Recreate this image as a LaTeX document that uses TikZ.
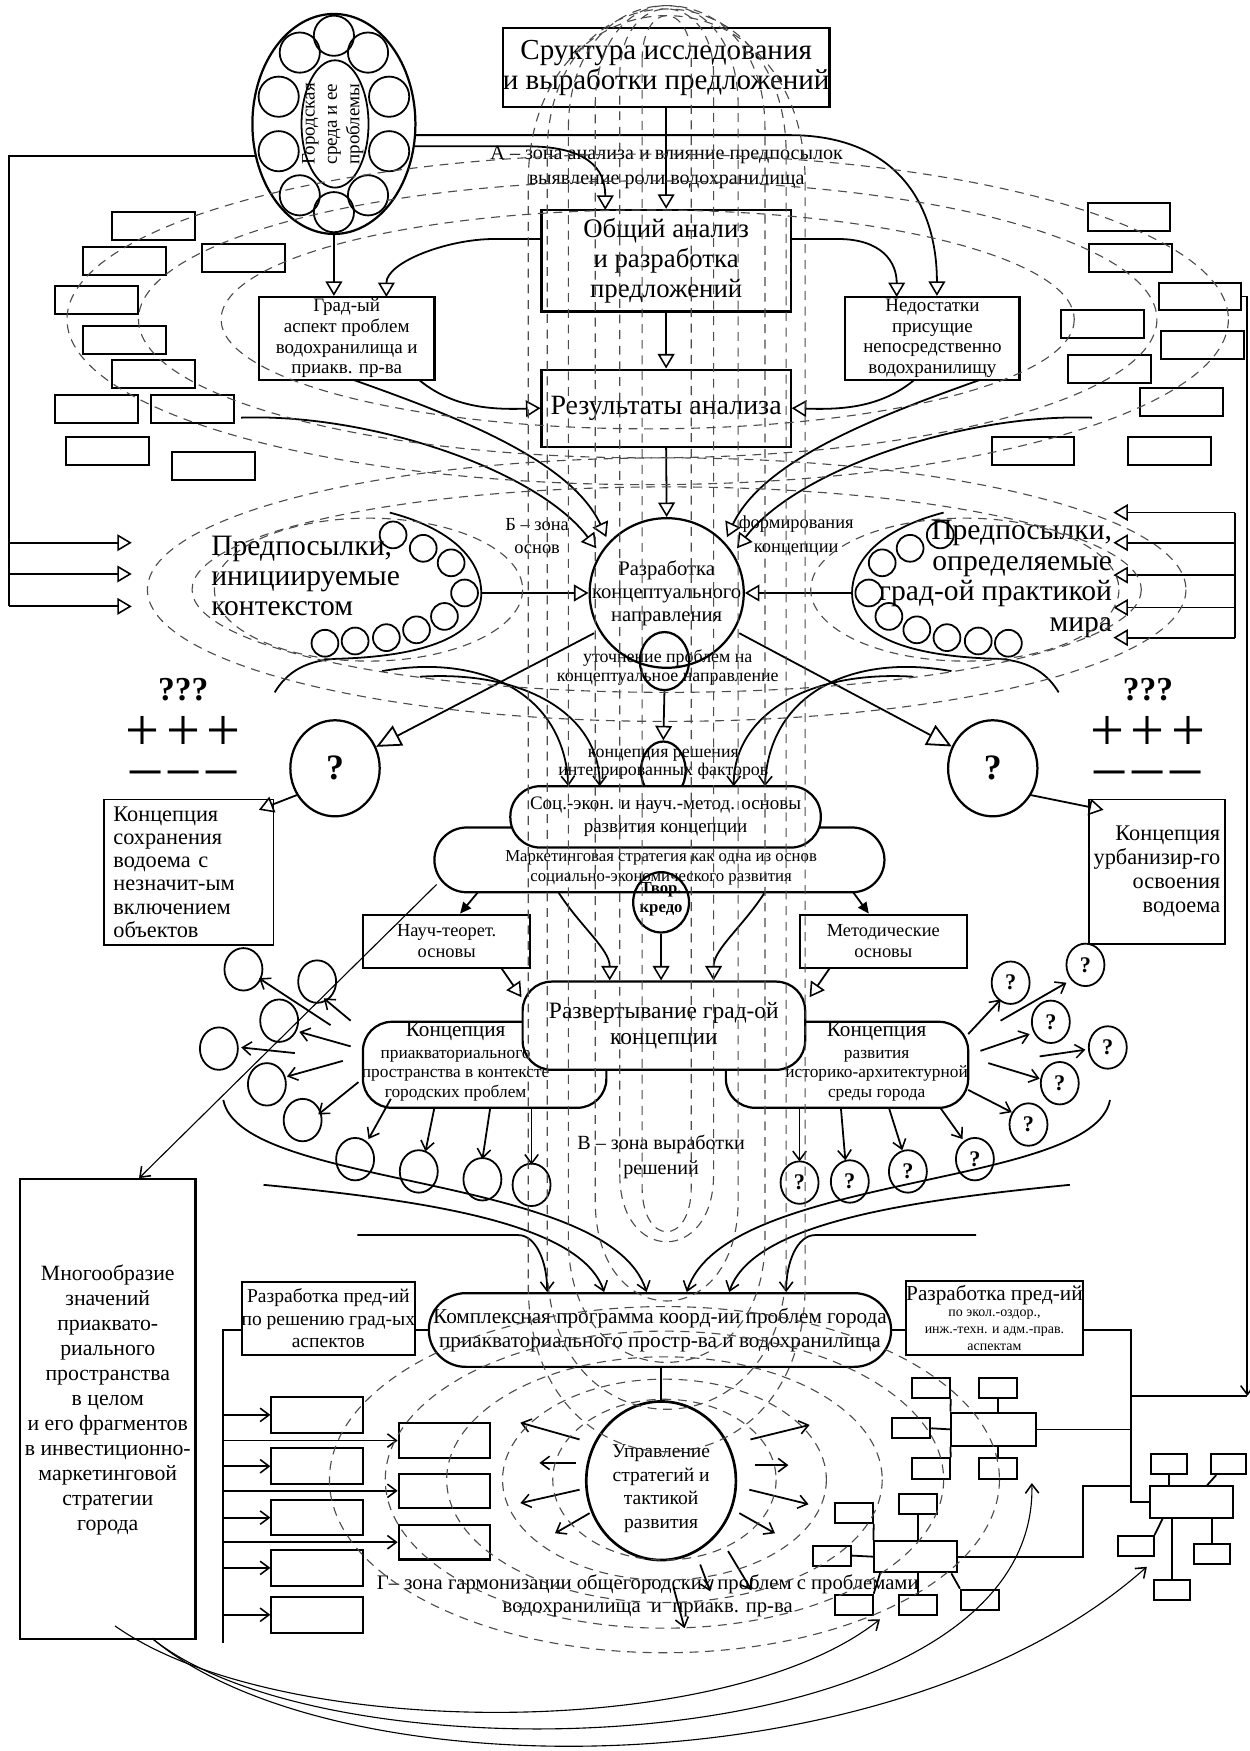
\documentclass[tikz,border=0pt]{standalone}
\usepackage{fontspec}
\setmainfont{Liberation Serif}
\usetikzlibrary{shapes.geometric, arrows.meta, calc}

\newcommand{\fsz}[2]{\fontsize{#1}{#2}\selectfont}

\begin{document}
\begin{tikzpicture}[x=1pt, y=-1pt,
  box/.style={draw, line width=2pt, fill=white, align=center, inner sep=0pt},
  oval/.style={draw, ellipse, line width=2pt, fill=white, inner sep=0pt, align=center},
  ring/.style={draw, ellipse, line width=1.6pt, inner sep=0pt, minimum width=#1, minimum height=#1},
  sbox/.style={draw, line width=1.8pt, fill=white, inner sep=0pt},
  lbl/.style={inner sep=0pt, align=center},
  conn/.style={line width=1.6pt},
  fine/.style={line width=1pt},
  zone/.style={dash pattern=on 8pt off 6pt, line width=1pt, black!70},
  hol/.style={-{Triangle[open, length=13pt, width=15pt, line width=1.4pt]}},
  bighol/.style={-{Triangle[open, length=22pt, width=20pt, line width=1.6pt]}},
  barb/.style={-{Straight Barb[length=8pt, width=12pt, line width=1.4pt]}},
  filltip/.style={-{Triangle[length=10pt, width=9pt]}}
]
\fill[white] (0,0) rectangle (1119,1568);
\useasboundingbox (0,0) rectangle (1119,1568);

% Zone A: structure, analysis
\node[box, minimum width=283pt, minimum height=71pt, font=\fsz{26}{27}] (struct) at (596.5,60.5) {Сруктура исследования\\и выработки предложений};
\node[oval, minimum width=146pt, minimum height=197pt] (gorod) at (299,111) {};
\foreach \a in {90,54,18,-18,-54,-90,126,162,198,234}
  \node[ring=36pt] (gc\a) at ({299+52*cos(\a)},{111-79*sin(\a)}) {};
\node[draw, ellipse, line width=1.6pt, inner sep=0pt, minimum width=60pt, minimum height=114pt] (gin) at (300,111) {};
\node[lbl, rotate=90, font=\fsz{17}{20}] (gorodlbl) at (298,111) {Городская\\среда и ее\\проблемы};

\node[lbl, font=\fsz{18}{22}] (zoneA) at (597,150) {А – зона анализа и влияние предпосылок\\выявление роли водохранилища};
\node[box, minimum width=223pt, minimum height=91pt, font=\fsz{24}{27}] (obsh) at (596.5,233.5) {Общий анализ\\и разработка\\предложений};
\node[box, minimum width=157pt, minimum height=74pt, font=\fsz{17}{18.5}] (grad) at (310.5,303) {Град-ый\\аспект проблем\\водохранилища и\\приакв. пр-ва};
\node[box, minimum width=156pt, minimum height=74pt, font=\fsz{17}{18.5}] (ned) at (835,303) {Недостатки\\присущие\\непосредственно\\водохранилищу};
\node[box, minimum width=223pt, minimum height=69pt, font=\fsz{25}{27}] (res) at (596.5,365.5) {Результаты анализа};

% empty boxes of zone A
\foreach \x/\y [count=\i] in {137.5/202.5, 111.5/233.5, 218/231, 86.5/268.5, 111.5/304.5, 137.5/335, 86.5/366.5, 172.5/366.5, 96/403.5, 191/417.5}
  \node[sbox, minimum width=74pt, minimum height=25pt] (lb\i) at (\x,\y) {};
\foreach \x/\y [count=\i] in {1011/194.5, 1012.5/231, 1074.5/265.5, 987.5/290.5, 1077/309, 993.5/330.5, 1058/360, 925/403.5, 1047.5/403.5}
  \node[sbox, minimum width=74pt, minimum height=25pt] (rb\i) at (\x,\y) {};

\draw[conn, hol] (struct.south) -- (obsh.north);
\draw[conn, hol] (obsh.south) -- (res.north);
\draw[conn, hol] (gorod.south) -- (gorod.south |- grad.north);
\draw[conn, hol] (372,121) -- (707,121) .. controls (800,121) and (839,180) .. ([xshift=4pt]ned.north);
\draw[conn, hol] (371,131) -- (471,131) .. controls (525,131) and (542,150) .. (542,188);
\draw[conn] (230,140) -- (8,140) -- (8,543);
\foreach \y in {486,514,543}
  \draw[conn, hol] (8,\y) -- (118,\y);
\draw[conn, hol] (485,214) -- (443,214) .. controls (400,214) and (346,235) .. (346,266);
\draw[conn, hol] (708,214) -- (750,214) .. controls (790,214) and (803,235) .. (803,266);
\draw[conn, hol] (375,340) .. controls (405,365) and (440,367) .. (res.west);
\draw[conn, hol] (819,340) .. controls (789,365) and (754,367) .. (res.east);
\draw[conn, barb] (rb3.east) -- (1117,265.5) -- (1117,1250);

% Zone B: concept
\node[oval, minimum width=138pt, minimum height=134pt] (razr) at (597,531) {};
\node[lbl, font=\fsz{18.5}{20.5}] (razrlbl) at (597,531) {Разработка\\концептуального\\направления};
\node[draw, ellipse, line width=2pt, inner sep=0pt, minimum width=44pt, minimum height=52pt] (utoch) at (595,592) {};
\node[lbl, font=\fsz{16}{17}] (utochlbl) at (598,598) {уточнение проблем на\\концептуальное направление};
\node[lbl, font=\fsz{16.5}{21}] (zoneB1) at (481,480) {Б – зона\\основ};
\node[lbl, font=\fsz{16.5}{21}] (zoneB2) at (713,480) {формирования\\концепции};
\draw[conn, hol] (res.south) -- (razr.north);
\draw[conn, hol] (316,340) .. controls (400,370) and (510,410) .. (543,481);
\draw[conn, hol] (216,374) .. controls (330,370) and (480,420) .. (534,491);
\draw[conn, hol] (878,340) .. controls (794,370) and (684,410) .. (651,481);
\draw[conn, hol] (978,374) .. controls (864,370) and (714,420) .. (660,491);

% prerequisites
\draw[conn] (349,459) .. controls (410,475) and (431,505) .. (431,531) .. controls (431,570) and (380,588) .. (300,590) .. controls (270,592) and (255,605) .. (246,620);
\draw[conn] (845,459) .. controls (784,475) and (763,505) .. (763,531) .. controls (763,570) and (814,588) .. (894,590) .. controls (924,592) and (939,605) .. (948,620);
\foreach \x/\y [count=\i] in {352/479, 379/491, 404/504, 416/531, 398/552, 373/564, 346/571, 318/574, 291/576} {
  \node[ring=24pt] (pl\i) at (\x,\y) {};
  \node[ring=24pt] (pr\i) at ({1194-\x},\y) {};
}
\node[lbl, align=left, anchor=west, font=\fsz{26.5}{27}] (predL) at (189,516) {Предпосылки,\\инициируемые\\контекстом};
\node[lbl, align=right, anchor=east, font=\fsz{26.5}{27.5}] (predR) at (996,518.5) {Предпосылки,\\определяемые\\град-ой практикой\\мира};
\draw[conn, hol] (431,531) -- (razr.west);
\draw[conn, hol] (763,531) -- (razr.east);
\draw[conn] (1106,459) -- (1106,571);
\foreach \y in {459,486,515,544,571}
  \draw[conn, hol] (1106,\y) -- (997,\y);

% two alternatives
\node[oval, minimum width=80pt, minimum height=86pt, font=\bfseries\fsz{32}{32}] (qL) at (300,688) {?};
\node[oval, minimum width=80pt, minimum height=86pt, font=\bfseries\fsz{32}{32}] (qR) at (889,688) {?};
\draw[conn, bighol] (532,567) -- (qL);
\draw[conn, bighol] (662,567) -- (qR);
\node[lbl, font=\bfseries\fsz{30}{30}] (qqqL) at (164,618) {???};
\node[lbl, font=\fsz{54}{54}] (plusL) at (164,657) {+\kern6pt+\kern6pt+};
\node[lbl, font=\fsz{54}{54}] (minusL) at (164,697) {–\kern7pt–\kern7pt–};
\node[lbl, font=\bfseries\fsz{30}{30}] (qqqR) at (1028,618) {???};
\node[lbl, font=\fsz{54}{54}] (plusR) at (1028,657) {+\kern6pt+\kern6pt+};
\node[lbl, font=\fsz{54}{54}] (minusR) at (1028,697) {–\kern7pt–\kern7pt–};
\node[box, line width=1.6pt, minimum width=152pt, minimum height=130pt, align=left, text width=135pt, font=\fsz{20}{20.8}] (boxL) at (169,781) {Концепция\\сохранения\\водоема с\\незначит-ым\\включением\\объектов};
\node[box, line width=1.6pt, minimum width=122pt, minimum height=129pt, align=right, font=\fsz{20}{21.5}] (boxR) at (1036,780.5) {Концепция\\урбанизир-го\\освоения\\водоема};
\draw[conn, hol] (qL.215) -- ([xshift=-14pt, yshift=-10pt]boxL.north east);
\draw[conn, hol] (qR.325) -- ([xshift=14pt, yshift=-10pt]boxR.north west);

% integration
\node[draw, ellipse, line width=2pt, inner sep=0pt, minimum width=40pt, minimum height=52pt] (kres) at (594,690) {};
\node[lbl, font=\fsz{16}{16}] (kreslbl) at (594,684) {концепция решения\\интегрированных факторов};
\draw[conn, hol] (utoch.south) -- (kres.north);
\draw[conn, barb] (342,601) .. controls (430,585) and (505,620) .. (509,704);
\draw[conn, barb] (376,606) .. controls (470,600) and (537,640) .. (537,704);
\draw[conn, barb] (852,601) .. controls (764,585) and (689,620) .. (685,704);
\draw[conn, barb] (818,606) .. controls (724,600) and (657,640) .. (657,704);

\node[box, rounded corners=29pt, minimum width=403pt, minimum height=58pt] (mark) at (590.5,770) {};
\node[lbl, font=\fsz{15}{18}] (marklbl) at (592,777) {Маркетинговая стратегия как одна из основ\\социально-экономического развития};
\node[box, rounded corners=27pt, minimum width=278pt, minimum height=55pt, font=\fsz{17}{21}] (soc) at (596,731.5) {Соц.-экон. и науч.-метод. основы\\развития концепции};
\node[draw, ellipse, line width=2pt, inner sep=0pt, minimum width=50pt, minimum height=54pt] (tvor) at (592,808) {};
\node[lbl, font=\bfseries\fsz{15}{17}] (tvorlbl) at (592,805) {Твор.\\кредо};

% Zone V: unfolding of the concept
\node[box, line width=1.8pt, minimum width=150pt, minimum height=48pt, font=\fsz{16.5}{19}] (nauch) at (400,843) {Науч-теорет.\\основы};
\node[box, line width=1.8pt, minimum width=150pt, minimum height=48pt, font=\fsz{16.5}{19}] (metod) at (791,843) {Методические\\основы};
\node[box, rounded corners=26pt, minimum width=218pt, minimum height=77pt] (konL) at (434,953.5) {};
\node[box, rounded corners=26pt, minimum width=217pt, minimum height=77pt] (konR) at (758.5,953.5) {};
\node[box, rounded corners=26pt, minimum width=253pt, minimum height=79pt, font=\fsz{21}{24}] (razv) at (594.5,918.5) {Развертывание град-ой\\концепции};
\node[lbl, font=\fsz{15.5}{17.5}] (konLlbl) at (408,951) {{\fsz{19}{19}Концепция}\\[2pt]приакваториального\\пространства в контексте\\городских проблем};
\node[lbl, font=\fsz{15.5}{17.5}] (konRlbl) at (785,951) {{\fsz{19}{19}Концепция}\\[2pt]развития\\историко-архитектурной\\среды города};

\draw[conn, filltip] (428,799) -- ([xshift=12pt]nauch.north);
\draw[conn, filltip] (764,799) -- ([xshift=-13pt]metod.north);
\draw[conn, hol] (449,867) -- (467,893);
\draw[conn, hol] (743,867) -- (725,893);
\draw[conn, hol] (500,799) .. controls (520,830) and (546,850) .. (546,878);
\draw[conn, hol] (685,799) .. controls (665,830) and (639,850) .. (639,878);
\draw[conn, hol] (tvor.south) -- (tvor.south |- razv.north);

% circles round the two concepts
\foreach \x/\y/\u/\v/\p/\q [count=\i] in {218/868/296/918/232/876, 284/879/314/914/290/894, 250/914/314/937/268/924, 196/939/264/943/216/938, 239/971/307/950/257/964, 271/1003/321/969/285/998, 318/1038/350/984/330/1020, 375/1049/389/992/381/1031, 432/1056/439/992/432/1038, 476/1061/476/992/476/1043} {
  \node[draw, ellipse, line width=1.6pt, inner sep=0pt, minimum width=34pt, minimum height=38pt] (cl\i) at (\x,\y) {};
  \draw[conn, barb] (\u,\v) -- (\p,\q);
}
\foreach \x/\y/\u/\v/\p/\q [count=\i] in {905/880/867/926/896/895, 972/864/896/914/955/880, 941/915/878/941/922/926, 992/938/931/946/972/940, 949/970/885/952/931/966, 921/1007/867/976/906/996, 873/1038/842/992/862/1020, 813/1049/796/992/808/1030, 761/1058/753/992/757/1039, 716/1059/716/992/716/1040} {
  \node[draw, ellipse, line width=1.6pt, inner sep=0pt, minimum width=34pt, minimum height=38pt, font=\bfseries\fsz{20}{20}] (cr\i) at (\x,\y) {?};
  \draw[conn, barb] (\u,\v) -- (\p,\q);
}
\node[lbl, font=\fsz{18}{22}] (zoneV) at (592,1036) {В – зона выработки\\решений};

% Zone G: programme and management
\node[box, rounded corners=33pt, minimum width=414pt, minimum height=66pt, font=\fsz{19}{22}] (kompl) at (591,1191) {Комплексная программа коорд-ии проблем города\\приакваториального простр-ва и водохранилища};
\node[box, line width=1.8pt, minimum width=152pt, minimum height=65pt, font=\fsz{17.5}{20}] (razL) at (294,1180.5) {Разработка пред-ий\\по решению град-ых\\аспектов};
\node[box, line width=1.8pt, minimum width=157pt, minimum height=66pt, font=\fsz{12.5}{15}] (razR) at (890.5,1180) {{\fsz{19}{19}Разработка пред-ий}\\по экол.-оздор.,\\инж.-техн. и адм.-прав.\\аспектам};
\draw[conn, barb] (200,985) .. controls (215,1065) and (545,1050) .. (579,1157);
\draw[conn, barb] (236,1061) .. controls (380,1075) and (520,1095) .. (541,1157);
\draw[conn, barb] (320,1106) -- (464,1106) .. controls (480,1106) and (490,1130) .. (490,1157);
\draw[conn, barb] (994,985) .. controls (979,1065) and (649,1050) .. (615,1157);
\draw[conn, barb] (958,1061) .. controls (814,1075) and (674,1095) .. (653,1157);
\draw[conn, barb] (874,1106) -- (730,1106) .. controls (714,1106) and (704,1130) .. (704,1157);
\draw[conn] (kompl.west) -- (razL.east |- kompl.west);
\draw[conn] (kompl.east) -- (razR.west |- kompl.east);
\draw[conn] (razL.west |- kompl.west) -- (200,1191) -- (200,1471);
\foreach \y [count=\i] in {1267,1313,1359,1404,1446} {
  \node[sbox, minimum width=82pt, minimum height=32pt] (lc\i) at (284,\y) {};
  \draw[conn, barb] (200,\y) -- (lc\i.west);
}
\foreach \y [count=\i] in {1290,1335,1381} {
  \node[sbox, minimum width=82pt, minimum height=31pt] (mc\i) at (398,\y) {};
  \draw[conn, barb] (200,\y) -- (mc\i.west);
}

\node[box, minimum width=157pt, minimum height=412pt] (mnogo) at (96.5,1262) {};
\node[lbl, font=\fsz{19.5}{22.4}] (mnogolbl) at (96.5,1254) {Многообразие\\значений\\приаквато-\\риального\\пространства\\в целом\\и его фрагментов\\в инвестиционно-\\маркетинговой\\стратегии\\города};
\draw[fine, barb] (391,792) -- ([xshift=28pt]mnogo.north);

\node[oval, line width=2.4pt, minimum width=134pt, minimum height=142pt] (upr) at (592,1326) {};
\node[lbl, font=\fsz{17.5}{21}] (uprlbl) at (592,1333) {Управление\\стратегий и\\тактикой\\развития};
\draw[conn] (upr.north |- kompl.south) -- (upr.north);
\foreach \a/\b/\c/\d in {519/1289/466/1274, 516/1310/483/1310, 519/1334/466/1346, 528/1355/497/1373, 672/1289/725/1276, 676/1312/706/1312, 671/1334/724/1347, 662/1355/694/1373, 627/1401/636/1425, 652/1389/673/1424, 603/1421/613/1458}
  \draw[conn, barb] (\a,\b) -- (\c,\d);
\node[lbl, font=\fsz{18.5}{21}] (zoneG) at (580,1429) {Г– зона гармонизации общегородских проблем с проблемами\\водохранилища\ \ и\ \ приакв. пр-ва};

% trees of proposals
\node[sbox, minimum width=76pt, minimum height=30pt] (t1) at (890,1280) {};
\foreach \n/\x/\y in {a/833.5/1243, b/894/1243, c/816/1279, d/833.5/1315, e/894/1315}
  \node[sbox, minimum width=34pt, minimum height=18pt] (t1\n) at (\x,\y) {};
\draw[conn] (t1a.south east) -- (t1.north west);
\draw[conn] (t1b.south) -- (t1b.south |- t1.north);
\draw[conn] (t1c.east) -- (t1.west);
\draw[conn] (t1d.north east) -- (t1.south west);
\draw[conn] (t1e.north) -- (t1e.north |- t1.south);
\node[sbox, minimum width=74pt, minimum height=28pt] (t2) at (820,1394) {};
\foreach \n/\x/\y in {a/764.5/1355, b/822/1347, c/745/1393, d/764.5/1437, e/822/1437, f/877.5/1432.5}
  \node[sbox, minimum width=34pt, minimum height=18pt] (t2\n) at (\x,\y) {};
\draw[conn] (t2a.south east) -- (t2.north west);
\draw[conn] (t2b.south) -- (t2b.south |- t2.north);
\draw[conn] (t2c.east) -- (t2.west);
\draw[conn] (t2d.north east) -- ([xshift=6pt]t2.south west);
\draw[conn] (t2e.north) -- (t2e.north |- t2.south);
\draw[conn] (t2f.north west) -- ([xshift=-6pt]t2.south east);
\node[sbox, minimum width=74pt, minimum height=28pt] (t3) at (1067,1345) {};
\foreach \n/\x/\y in {a/1047/1311, b/1100/1311, c/1017/1384.5, d/1085.5/1391.5, e/1049.5/1423.5}
  \node[sbox, minimum width=32pt, minimum height=18pt] (t3\n) at (\x,\y) {};
\draw[conn] (t3a.south) -- (t3a.south |- t3.north);
\draw[conn] ([xshift=6pt]t3b.south west) -- ([xshift=-24pt]t3.north east);
\draw[conn] (t3c.north east) -- ([xshift=12pt]t3.south west);
\draw[conn] (t3d.north) -- (t3d.north |- t3.south);
\draw[conn] (t3e.north) -- (t3e.north |- t3.south);
\draw[conn] (razR.east |- kompl.east) -- (1013,1191) -- (1013,1345) -- (t3.west);
\draw[conn] (t1.east) -- (1013,1280);
\draw[conn] (t2.east) -- (970,1394) -- (970,1331) -- (1013,1331);
\draw[conn] (1013,1250) -- (1117,1250);

\draw[fine, barb] (103,1456) .. controls (250,1560) and (650,1560) .. (788,1450);
\draw[fine, barb] (136,1467) .. controls (300,1600) and (930,1580) .. (924,1328);
\draw[fine, barb] (136,1467) .. controls (300,1605) and (800,1605) .. (1027,1403);

% dashed zones
\foreach \rx/\ry in {520/148, 456/124, 382/98}
  \draw[zone] (580,286) ellipse [x radius=\rx, y radius=\ry];
\foreach \rx/\ry in {465/118, 425/92}
  \draw[zone] (597,528) ellipse [x radius=\rx, y radius=\ry];
\draw[zone] (330,528) ellipse [x radius=138, y radius=64];
\draw[zone] (864,528) ellipse [x radius=138, y radius=64];
\foreach \rx/\ry in {300/155, 250/133, 195/110, 145/90, 100/72}
  \draw[zone] (595,1325) ellipse [x radius=\rx, y radius=\ry];
\foreach \r/\t/\b/\h in {22/14/1103/40, 42/8/1112/60, 64/5/1165/90, 88/5/1220/110, 107/8/1262/130, 124/14/1300/150}
  \draw[zone] ({597-\r},{\t+\h}) .. controls ({597-\r},{\t-\h/3}) and ({597+\r},{\t-\h/3}) .. ({597+\r},{\t+\h}) -- ({597+\r},{\b-\h}) .. controls ({597+\r},{\b+\h/3}) and ({597-\r},{\b+\h/3}) .. ({597-\r},{\b-\h}) -- cycle;
\end{tikzpicture}
\end{document}
